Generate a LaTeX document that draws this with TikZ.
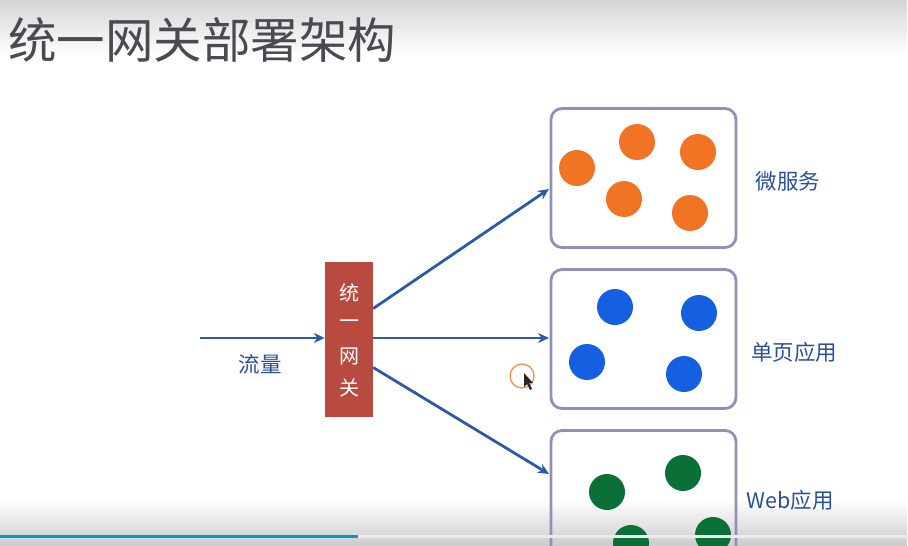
\documentclass[tikz,border=0pt]{standalone}
\usepackage{fontspec}
\setmainfont{Noto Sans CJK SC}
\usetikzlibrary{arrows.meta,fadings}
\definecolor{titlegray}{HTML}{4A4A52}
\definecolor{gwred}{HTML}{B94A3F}
\definecolor{arrblue}{HTML}{2D5AA8}
\definecolor{lblblue}{HTML}{2A4F9A}
\definecolor{boxline}{HTML}{9290B8}
\definecolor{orangedot}{HTML}{F07424}
\definecolor{bluedot}{HTML}{1560E0}
\definecolor{greendot}{HTML}{0A7038}
\definecolor{barblue}{HTML}{0096D6}
\tikzset{
  arr/.style={draw=arrblue, line width=2.8pt, -{Stealth[length=11pt,width=10pt]}},
  appbox/.style={draw=boxline, line width=2.8pt, rounded corners=11pt, minimum width=185pt, minimum height=139pt, inner sep=0pt},
  dot/.style={circle, minimum size=36pt, inner sep=0pt},
  lbl/.style={text=lblblue, font=\fontsize{21.5}{24}\selectfont, inner sep=0pt},
  gwtxt/.style={text=white, font=\fontsize{20}{22}\selectfont, inner sep=0pt}
}
\begin{document}
\begin{tikzpicture}[x=1pt,y=-1pt]
\clip (0,0) rectangle (908,546);
\fill[white] (0,0) rectangle (908,546);
% top gradient
\fill[black!16, path fading=south] (0,0) rectangle (908,55);
% bottom gradient (background)
\fill[black!20, path fading=north] (0,500) rectangle (908,546);
% title
\node[anchor=west, text=titlegray, font=\fontsize{48.5}{52}\selectfont, inner sep=0pt] (title) at (8,40) {统一网关部署架构};

% gateway
\node[fill=gwred, minimum width=48pt, minimum height=155pt, inner sep=0pt] (gw) at (349,339.5) {};
\node[gwtxt] (g1) at (349,293) {统};
\node[gwtxt] (g2) at (349,324) {一};
\node[gwtxt] (g3) at (349,356) {网};
\node[gwtxt] (g4) at (349,388) {关};

% input
\coordinate (in) at (200,338);
\draw[arr] (in) -- (gw.west |- in);
\node[lbl] (flow) at (260,364) {流量};

% boxes
\node[appbox] (b1) at (643.5,178) {};
\node[appbox] (b2) at (643.5,339) {};
\node[appbox] (b3) at (643.5,500) {};

% output arrows
\coordinate (t1) at (549,189);
\coordinate (t2) at (549,338);
\coordinate (t3) at (549,474);
\draw[arr] ([yshift=31pt]gw.east) -- (t1);
\draw[arr] ([yshift=1.5pt]gw.east) -- (t2);
\draw[arr] ([yshift=-28pt]gw.east) -- (t3);

% orange dots
\node[dot, fill=orangedot] (o1) at (577,168) {};
\node[dot, fill=orangedot] (o2) at (637,142) {};
\node[dot, fill=orangedot] (o3) at (698,152) {};
\node[dot, fill=orangedot] (o4) at (624,199) {};
\node[dot, fill=orangedot] (o5) at (690,213) {};
% blue dots
\node[dot, fill=bluedot] (u1) at (615,307) {};
\node[dot, fill=bluedot] (u2) at (699,313) {};
\node[dot, fill=bluedot] (u3) at (587,362) {};
\node[dot, fill=bluedot] (u4) at (684,374) {};
% green dots
\node[dot, fill=greendot] (v1) at (607,492) {};
\node[dot, fill=greendot] (v2) at (683,473) {};
\node[dot, fill=greendot] (v3) at (631,543) {};
\node[dot, fill=greendot] (v4) at (713,535) {};

% labels
\node[lbl] (l1) at (788,181) {微服务};
\node[lbl] (l2) at (794,352) {单页应用};
\node[lbl] (l3) at (790,500) {Web应用};

% cursor
\node[circle, draw=orangedot!80, line width=1.3pt, minimum size=24pt, inner sep=0pt] (cur) at (522,376) {};
\fill[black!85] (524,373) -- (524,387) -- (527,384) -- (530,390) -- (532,389) -- (529,383) -- (533,383) -- cycle;

% progress bar
\fill[black!8] (358,534.5) rectangle (908,537.5);
\fill[barblue] (0,534.5) rectangle (358,537.5);
\end{tikzpicture}
\end{document}
